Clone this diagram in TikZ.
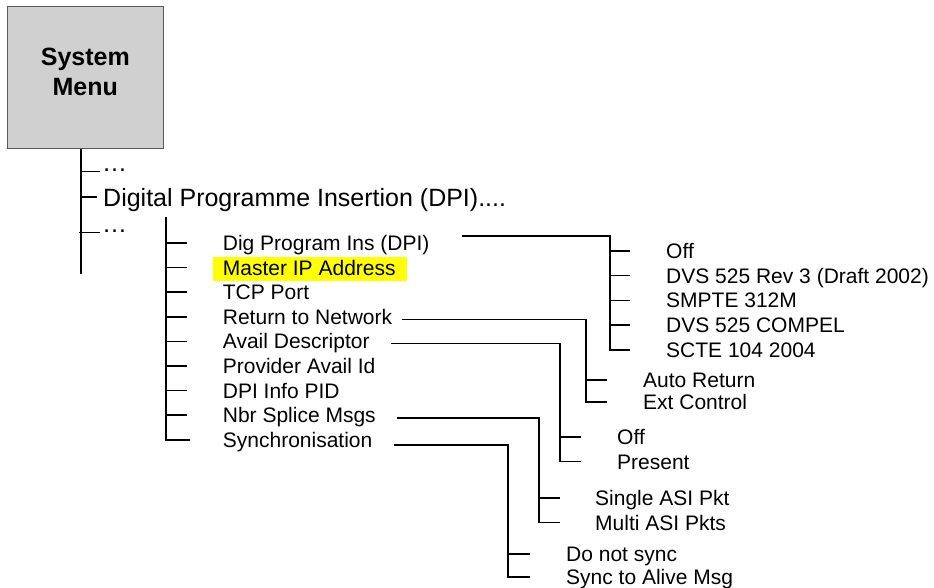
\documentclass[tikz,border=0pt]{standalone}
\usepackage{fontspec}
\setmainfont{Liberation Sans}
\usetikzlibrary{positioning, calc, backgrounds}
\definecolor{boxgrey}{RGB}{208,208,208}
\definecolor{boxedge}{RGB}{90,90,90}
\definecolor{hilite}{RGB}{255,255,0}
\tikzstyle{menubox} = [rectangle, 
draw=boxedge, 
fill=boxgrey, 
line width=0.8pt,
minimum width=156pt, 
minimum height=141.6pt, 
text depth=12pt,
align=center, 
font=\bfseries\fontsize{25}{30}\selectfont]
\tikzstyle{topitem} = [anchor=west, inner sep=0pt, 
text height=17.9pt, text depth=0pt, 
font=\fontsize{25}{30}\selectfont]
\tikzstyle{dots} = [anchor=base west, inner sep=0pt, 
font=\fontsize{25}{30}\selectfont]
\tikzstyle{item} = [anchor=west, inner sep=0pt, 
text height=15pt, text depth=0pt, 
font=\fontsize{21}{25}\selectfont]
\tikzstyle{branch} = [line width=1.6pt, draw=black]

\begin{document}
\begin{tikzpicture}[x=1pt, y=-1pt, node distance=24.6pt]
        \useasboundingbox (0,0) rectangle (934,588);

        % Menu
        \node (sysmenu) [menubox] at (85.3,77.5) {System\\Menu};
        \node (dots1) [dots] at (102,171.5) {…};
        \node (dpimenu) [topitem] at (103,197.3) {Digital Programme Insertion (DPI)....};
        \node (dots2) [dots] at (102,232.5) {…};

        % Submenu
        \node (dpi) [item] at (222.7,243) {Dig Program Ins (DPI)};
        \node (mip) [item, below=of dpi.west, anchor=west] {Master IP Address};
        \node (tcp) [item, below=of mip.west, anchor=west] {TCP Port};
        \node (rtn) [item, below=of tcp.west, anchor=west] {Return to Network};
        \node (avail) [item, below=of rtn.west, anchor=west] {Avail Descriptor};
        \node (provider) [item, below=of avail.west, anchor=west] {Provider Avail Id};
        \node (pid) [item, below=of provider.west, anchor=west] {DPI Info PID};
        \node (nbr) [item, below=of pid.west, anchor=west] {Nbr Splice Msgs};
        \node (sync) [item, below=of nbr.west, anchor=west] {Synchronisation};

        % Options
        \node (off1) [item] at (666,250.7) {Off};
        \node (dvsrev) [item, below=24.8pt of off1.west, anchor=west] {DVS 525 Rev 3 (Draft 2002)};
        \node (smpte) [item, below=24.8pt of dvsrev.west, anchor=west] {SMPTE 312M};
        \node (compel) [item, below=24.8pt of smpte.west, anchor=west] {DVS 525 COMPEL};
        \node (scte) [item, below=24.8pt of compel.west, anchor=west] {SCTE 104 2004};
        \node (auto) [item] at (643,380) {Auto Return};
        \node (ext) [item, below=21.7pt of auto.west, anchor=west] {Ext Control};
        \node (off2) [item] at (617,437) {Off};
        \node (present) [item, below=of off2.west, anchor=west] {Present};
        \node (single) [item] at (595,498) {Single ASI Pkt};
        \node (multi) [item, below=of single.west, anchor=west] {Multi ASI Pkts};
        \node (nosync) [item] at (566,554) {Do not sync};
        \node (alive) [item, below=23pt of nosync.west, anchor=west] {Sync to Alive Msg};

        \begin{scope}[on background layer]
        \fill [hilite] ($(mip.west)+(-9.5,-10.5)$) rectangle ($(mip.east)+(11.5,13.5)$);
        \end{scope}

        % Menu lines
        \coordinate (trunkend) at (81,274);
        \draw [branch] ($(sysmenu.south)+(-4.3,0)$) -- (trunkend);
        \draw [branch] (trunkend |- dots1.base) -- ($(dots1.base west)+(-2,0)$);
        \draw [branch] (trunkend |- dpimenu.west) -- ($(dpimenu.west)+(-6,0)$);
        \draw [branch] ($(trunkend |- dots2.base)+(-2,0)$) -- ($(dots2.base west)+(-2,0)$);

        % Submenu lines
        \coordinate (subtop) at ($(dpi.west)+(-57,-26)$);
        \draw [branch] (subtop) |- ($(sync.west)+(-33,0)$);
        \draw [branch] ($(dpi.west)+(-57,0)$) -- ($(dpi.west)+(-36,0)$);
        \draw [branch] ($(mip.west)+(-57,0)$) -- ($(mip.west)+(-36,0)$);
        \draw [branch] ($(tcp.west)+(-57,0)$) -- ($(tcp.west)+(-36,0)$);
        \draw [branch] ($(rtn.west)+(-57,0)$) -- ($(rtn.west)+(-36,0)$);
        \draw [branch] ($(avail.west)+(-57,0)$) -- ($(avail.west)+(-36,0)$);
        \draw [branch] ($(provider.west)+(-57,0)$) -- ($(provider.west)+(-36,0)$);
        \draw [branch] ($(pid.west)+(-57,0)$) -- ($(pid.west)+(-36,0)$);
        \draw [branch] ($(nbr.west)+(-57,0)$) -- ($(nbr.west)+(-36,0)$);

        % Option lines
        \draw [branch] ($(dpi.east)+(32,-7.3)$) -| ($(scte.west)+(-56,0)$) -- ($(scte.west)+(-36,0)$);
        \draw [branch] ($(off1.west)+(-56,0)$) -- ($(off1.west)+(-36,0)$);
        \draw [branch] ($(dvsrev.west)+(-56,0)$) -- ($(dvsrev.west)+(-36,0)$);
        \draw [branch] ($(smpte.west)+(-56,0)$) -- ($(smpte.west)+(-36,0)$);
        \draw [branch] ($(compel.west)+(-56,0)$) -- ($(compel.west)+(-36,0)$);

        \draw [branch] ($(rtn.east)+(10,2.5)$) -| ($(ext.west)+(-57,0)$) -- ($(ext.west)+(-36,0)$);
        \draw [branch] ($(auto.west)+(-57,0)$) -- ($(auto.west)+(-36,0)$);

        \draw [branch] ($(avail.east)+(21,2)$) -| ($(present.west)+(-57,0)$) -- ($(present.west)+(-36,0)$);
        \draw [branch] ($(off2.west)+(-57,0)$) -- ($(off2.west)+(-36,0)$);

        \draw [branch] ($(nbr.east)+(21,2.5)$) -| ($(multi.west)+(-56,0)$) -- ($(multi.west)+(-35,0)$);
        \draw [branch] ($(single.west)+(-56,0)$) -- ($(single.west)+(-35,0)$);

        \draw [branch] ($(sync.east)+(21,5)$) -| ($(alive.west)+(-58,0)$) -- ($(alive.west)+(-36,0)$);
        \draw [branch] ($(nosync.west)+(-58,0)$) -- ($(nosync.west)+(-36,0)$);

    \end{tikzpicture}
\end{document}
